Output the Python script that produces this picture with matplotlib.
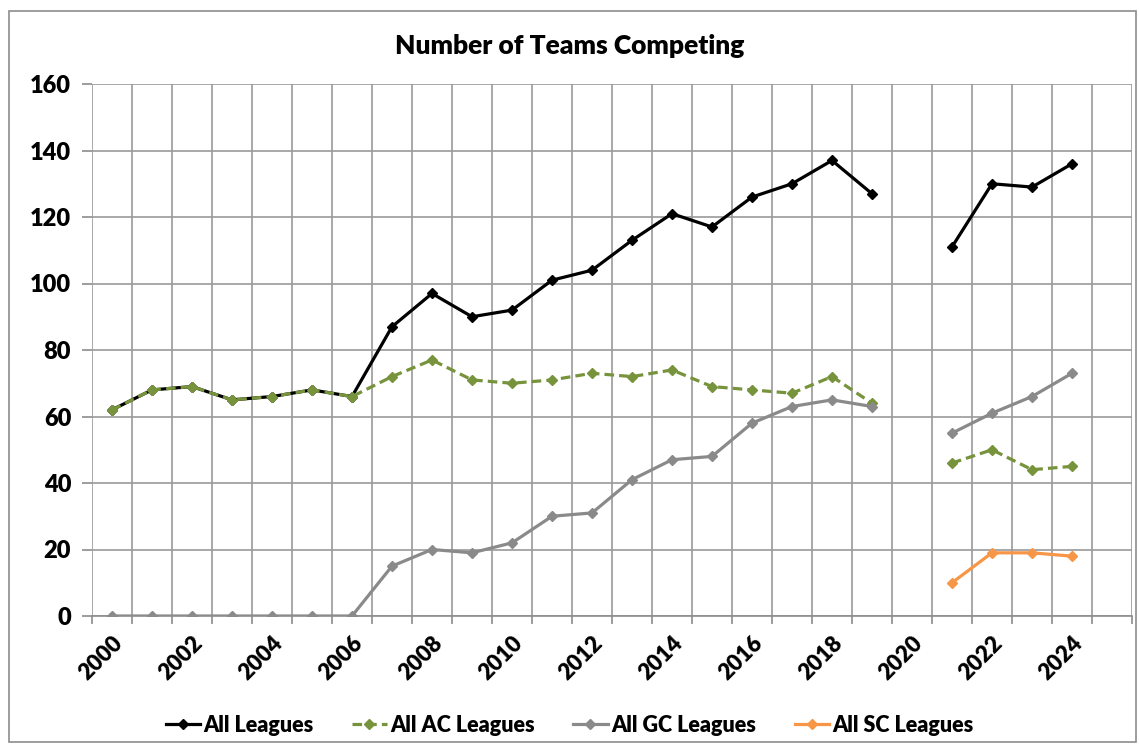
import matplotlib.pyplot as plt
import numpy as np
from matplotlib.patches import Rectangle

plt.rcParams['font.family'] = ['Lato', 'DejaVu Sans']
plt.rcParams['font.weight'] = 'bold'

years_a = [2000, 2001, 2002, 2003, 2004, 2005, 2006, 2007, 2008, 2009,
           2010, 2011, 2012, 2013, 2014, 2015, 2016, 2017, 2018, 2019]
years_b = [2021, 2022, 2023, 2024]

all_a = [62, 68, 69, 65, 66, 68, 66, 87, 97, 90, 92, 101, 104, 113, 121, 117, 126, 130, 137, 127]
all_b = [111, 130, 129, 136]
ac_a = [62, 68, 69, 65, 66, 68, 66, 72, 77, 71, 70, 71, 73, 72, 74, 69, 68, 67, 72, 64]
ac_b = [46, 50, 44, 45]
gc_a = [0, 0, 0, 0, 0, 0, 0, 15, 20, 19, 22, 30, 31, 41, 47, 48, 58, 63, 65, 63]
gc_b = [55, 61, 66, 73]
sc_b = [10, 19, 19, 18]

year_labels = list(range(2000, 2025, 2))

fig = plt.figure(figsize=(11.39, 7.45), dpi=100)
ax = fig.add_axes([92/1139, 1 - 616/745, (1132-92)/1139, (616-84)/745])

fig.patches.append(Rectangle((9/1139, 1 - 742/745), 1127/1139, 731/745,
                             transform=fig.transFigure, fill=False,
                             edgecolor='#8c8c8c', linewidth=1.2))

styles = [
    ('All Leagues', all_a, all_b, dict(color='black', linestyle='-')),
    ('All AC Leagues', ac_a, ac_b, dict(color='#77933C', linestyle=(0, (3, 1.6)))),
    ('All GC Leagues', gc_a, gc_b, dict(color='#8a8a8a', linestyle='-')),
]
for name, ya, yb, st in styles:
    ax.plot(years_a, ya, marker='D', markersize=5, linewidth=2.3, label=name, **st)
    ax.plot(years_b, yb, marker='D', markersize=5, linewidth=2.3, **st)
ax.plot(years_b, sc_b, marker='D', markersize=5, linewidth=2.3, color='#F79646',
        label='All SC Leagues')

ax.set_xlim(1999.5, 2025.5)
ax.set_ylim(0, 160)
ax.set_yticks(np.arange(0, 161, 20))
ax.set_xticks(np.arange(1999.5, 2026, 1), minor=True)
ax.set_xticks(year_labels)
ax.set_xticklabels([str(y) for y in year_labels], rotation=45, ha='right',
                   rotation_mode='anchor', fontsize=16, fontweight='heavy')
ax.tick_params(axis='x', which='major', length=0, pad=12)
ax.tick_params(axis='x', which='minor', length=6, color='#8c8c8c', width=1.2)
ax.tick_params(axis='y', length=7, color='#8c8c8c', width=1.2, labelsize=17, pad=8)
for lab in ax.get_yticklabels():
    lab.set_fontweight('heavy')

ax.grid(True, which='minor', axis='x', color='#9a9a9a', linewidth=1.2)
ax.grid(True, which='major', axis='y', color='#9a9a9a', linewidth=1.2)
ax.set_axisbelow(True)
for s in ['top', 'right', 'left']:
    ax.spines[s].set_visible(False)
ax.spines['bottom'].set_color('#8c8c8c')
ax.spines['bottom'].set_linewidth(1.2)

fig.text(0.5, 1 - 46/745, 'Number of Teams Competing', ha='center', va='center',
         fontsize=19, fontweight='heavy')

fig.legend(loc='center', bbox_to_anchor=(0.5, 1 - 725/745), ncol=4, frameon=False,
           handlelength=1.6, handletextpad=0.15, columnspacing=1.8,
           prop={'weight': 'heavy', 'size': 15.5})

fig.savefig('out.png', dpi=100)
